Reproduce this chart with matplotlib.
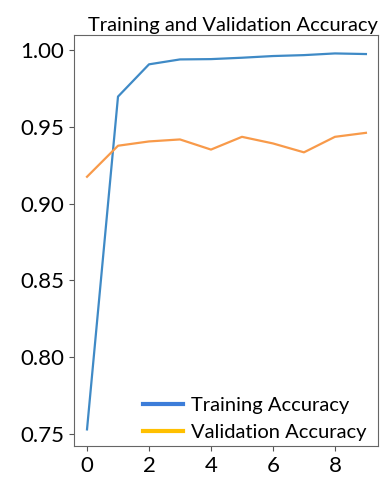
import matplotlib.pyplot as plt
from matplotlib.lines import Line2D

plt.rcParams['font.family'] = ['Lato', 'DejaVu Sans']

epochs = list(range(10))
train_acc = [0.753, 0.9697, 0.9907, 0.9939, 0.9941, 0.9950, 0.9961, 0.9967, 0.9978, 0.9974]
val_acc = [0.9175, 0.9377, 0.9405, 0.9418, 0.9352, 0.9435, 0.9392, 0.9334, 0.9435, 0.9461]
labels = ["Training Accuracy", "Validation Accuracy"]

fig = plt.figure(figsize=(3.88, 4.79), dpi=100)
ax = fig.add_axes([74 / 388, 1 - 446 / 479, (378 - 74) / 388, (446 - 35) / 479])

ax.plot(epochs, train_acc, color='#3f8ac6', lw=1.6)
ax.plot(epochs, val_acc, color='#f89a4a', lw=1.6)

ax.set_xlim(-0.42, 9.39)
ax.set_ylim(0.7422, 1.0098)
ax.set_xticks([0, 2, 4, 6, 8])
ax.set_yticks([0.75, 0.80, 0.85, 0.90, 0.95, 1.00])
ax.set_yticklabels(["0.75", "0.80", "0.85", "0.90", "0.95", "1.00"])
ax.tick_params(labelsize=16, color='#555555')
for s in ax.spines.values():
    s.set_color('#666666')

handles = [Line2D([], [], color='#3c7dd9', lw=3), Line2D([], [], color='#ffc000', lw=3)]
ax.legend(handles, labels, loc='lower right', bbox_to_anchor=(0.98, 0.0),
          fontsize=14.5, frameon=False,
          handlelength=2.0, handletextpad=0.4, borderaxespad=0.0, borderpad=0.25,
          labelspacing=0.5)

ax.set_title("Training and Validation Accuracy", fontsize=14.5, loc='right', pad=3)

fig.savefig("out.png", dpi=100)
